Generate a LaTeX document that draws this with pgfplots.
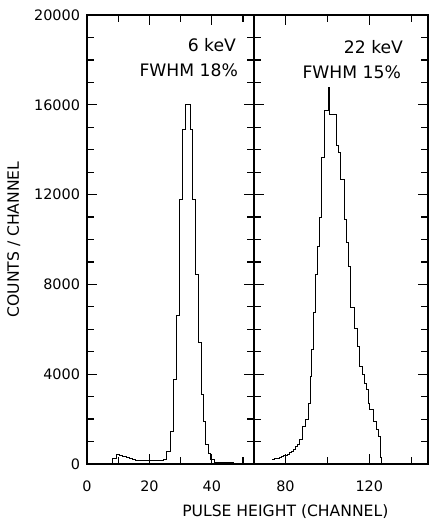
\documentclass[border=0pt]{standalone}
\usepackage{fontspec}
\setmainfont{DejaVu Sans}
\usepackage{pgfplots}
\pgfplotsset{compat=1.18}

\pgfplotsset{
  spec/.style={
    scale only axis, height=224.5pt,
    ymin=0, ymax=20000,
    ytick={0,4000,...,20000}, minor y tick num=3,
    scaled y ticks=false,
    tick align=inside, ytick pos=both, xtick pos=both,
    major tick length=5pt, minor tick length=3.5pt,
    tick style={black, line width=0.6pt},
    axis line style={line width=0.8pt},
    ticklabel style={font=\fontsize{7.2}{8}\selectfont},
    xticklabel style={yshift=-5pt},
    label style={font=\fontsize{7.8}{9}\selectfont},
    /pgf/number format/assume math mode=true,
    /pgf/number format/set thousands separator={},
  },
  hist/.style={const plot, mark=none, black, line width=0.5pt},
}

\begin{document}
\begin{tikzpicture}
  % 6 keV panel
  \begin{axis}[spec,
      width=83.5pt,
      xmin=0, xmax=53.5,
      xtick={0,20,40}, minor xtick={10,30,50},
      ylabel={COUNTS / CHANNEL},
    ]
    \addplot[hist] coordinates {
      (7.5,0) (8.3,250) (9.3,420) (10.5,370) (11.5,320) (12.5,270)
      (13.5,230) (14.5,190) (15.5,165) (16.5,150) (17.5,140) (18.5,135)
      (19.5,135) (20.5,140) (21.5,145) (22.5,155) (23.5,165) (24.4,220)
      (25.5,550) (26.6,1450) (27.6,3750) (28.7,6600) (29.5,11800)
      (30.5,14900) (31.7,16000) (33.0,14900) (33.8,11800) (34.6,8450)
      (35.6,5400) (36.6,3100) (37.4,1900) (38.0,850) (38.8,480)
      (39.6,180) (41,50) (47,25) (51,0)};
    \node[anchor=east, font=\fontsize{8.6}{10}\selectfont]
      at (rel axis cs:0.934,0.933) {6 keV};
    \node[anchor=east, font=\fontsize{8.6}{10}\selectfont]
      at (rel axis cs:0.946,0.877) {FWHM 18\%};
  \end{axis}

  % 22 keV panel
  \begin{axis}[spec,
      at={(83.5pt,0)},
      width=87pt,
      xmin=65, xmax=148,
      xtick={80,120}, minor xtick={100,140},
      yticklabels={},
      xlabel={PULSE HEIGHT (CHANNEL)},
      xlabel style={at={(axis description cs:0.18,0)}, anchor=center, yshift=-24pt},
    ]
    \addplot[hist] coordinates {
      (73.6,220) (75,240) (76,260) (77,285) (78,320) (79,360) (80,400)
      (81,440) (82,500) (83,570) (84,650) (85,760) (85.8,880)
      (86.72,1071) (88.31,1666) (89.46,1964) (91.04,2710) (91.86,3897)
      (92.63,5090) (93.59,6727) (94.26,8437) (95.51,9670) (96.32,10970)
      (97.43,13660) (98.72,15730) (100.31,16770) (101.12,15580)
      (104.34,14165) (105.44,13870) (106.40,12680) (108.32,10890)
      (109.14,9850) (109.91,8810) (111.06,6950) (113.12,6057)
      (114.23,5236) (115.52,4343) (116.63,3973) (117.92,3602)
      (118.74,3303) (119.85,2710) (120.33,2410) (121.91,1890)
      (123.54,1518) (124.31,1220) (125.13,300) (125.94,40) (148,40)};
    \node[anchor=east, font=\fontsize{8.6}{10}\selectfont]
      at (rel axis cs:0.897,0.929) {22 keV};
    \node[anchor=east, font=\fontsize{8.6}{10}\selectfont]
      at (rel axis cs:0.885,0.873) {FWHM 15\%};
  \end{axis}

  \pgfresetboundingbox
  \path (-43.5pt,-28.5pt) rectangle (171pt,232pt);
\end{tikzpicture}
\end{document}
